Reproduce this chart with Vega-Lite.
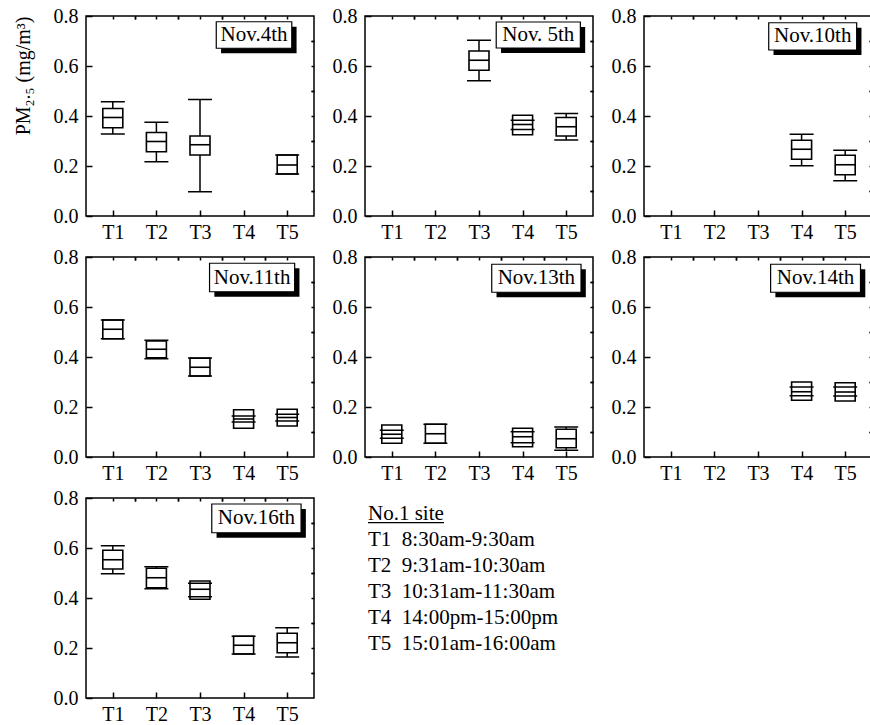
{
  "$schema": "https://vega.github.io/schema/vega-lite/v6.json",
  "background": "white",
  "padding": {"left": 12, "top": 5, "right": 0, "bottom": 0},
  "autosize": {"type": "pad"},
  "config": {
    "font": "Liberation Serif",
    "view": {"stroke": "black", "strokeWidth": 1.5},
    "axis": {"domain": false, "grid": false, "tickColor": "black", "tickWidth": 1.5, "labelFont": "Liberation Serif", "labelFontSize": 20, "labelColor": "black", "labelOverlap": false, "labelFlush": false, "titleFont": "Liberation Serif", "titleFontSize": 20, "titleFontWeight": "normal", "titleColor": "black"},
    "text": {"font": "Liberation Serif"}
  },
  "datasets": {
    "boxes": [
      {"date": "Nov.4th", "t": 1, "lo": 0.328, "q1": 0.353, "med": 0.394, "q3": 0.430, "hi": 0.457},
      {"date": "Nov.4th", "t": 2, "lo": 0.217, "q1": 0.257, "med": 0.298, "q3": 0.334, "hi": 0.375},
      {"date": "Nov.4th", "t": 3, "lo": 0.097, "q1": 0.244, "med": 0.285, "q3": 0.320, "hi": 0.466},
      {"date": "Nov.4th", "t": 5, "lo": 0.168, "q1": 0.168, "med": 0.204, "q3": 0.244, "hi": 0.244},
      {"date": "Nov. 5th", "t": 3, "lo": 0.541, "q1": 0.583, "med": 0.623, "q3": 0.660, "hi": 0.703},
      {"date": "Nov. 5th", "t": 4, "lo": 0.346, "q1": 0.325, "med": 0.366, "q3": 0.403, "hi": 0.383},
      {"date": "Nov. 5th", "t": 5, "lo": 0.304, "q1": 0.320, "med": 0.357, "q3": 0.394, "hi": 0.410},
      {"date": "Nov.10th", "t": 4, "lo": 0.201, "q1": 0.227, "med": 0.267, "q3": 0.303, "hi": 0.327},
      {"date": "Nov.10th", "t": 5, "lo": 0.141, "q1": 0.165, "med": 0.205, "q3": 0.243, "hi": 0.263},
      {"date": "Nov.11th", "t": 1, "lo": 0.473, "q1": 0.473, "med": 0.511, "q3": 0.548, "hi": 0.548},
      {"date": "Nov.11th", "t": 2, "lo": 0.393, "q1": 0.397, "med": 0.431, "q3": 0.464, "hi": 0.467},
      {"date": "Nov.11th", "t": 3, "lo": 0.324, "q1": 0.324, "med": 0.359, "q3": 0.395, "hi": 0.396},
      {"date": "Nov.11th", "t": 4, "lo": 0.140, "q1": 0.115, "med": 0.152, "q3": 0.189, "hi": 0.164},
      {"date": "Nov.11th", "t": 5, "lo": 0.144, "q1": 0.124, "med": 0.158, "q3": 0.191, "hi": 0.171},
      {"date": "Nov.13th", "t": 1, "lo": 0.075, "q1": 0.055, "med": 0.091, "q3": 0.128, "hi": 0.107},
      {"date": "Nov.13th", "t": 2, "lo": 0.055, "q1": 0.055, "med": 0.093, "q3": 0.131, "hi": 0.131},
      {"date": "Nov.13th", "t": 4, "lo": 0.057, "q1": 0.041, "med": 0.081, "q3": 0.115, "hi": 0.101},
      {"date": "Nov.13th", "t": 5, "lo": 0.027, "q1": 0.037, "med": 0.073, "q3": 0.111, "hi": 0.120},
      {"date": "Nov.14th", "t": 4, "lo": 0.245, "q1": 0.227, "med": 0.261, "q3": 0.300, "hi": 0.280},
      {"date": "Nov.14th", "t": 5, "lo": 0.244, "q1": 0.224, "med": 0.260, "q3": 0.297, "hi": 0.280},
      {"date": "Nov.16th", "t": 1, "lo": 0.497, "q1": 0.516, "med": 0.553, "q3": 0.591, "hi": 0.609},
      {"date": "Nov.16th", "t": 2, "lo": 0.437, "q1": 0.441, "med": 0.481, "q3": 0.519, "hi": 0.525},
      {"date": "Nov.16th", "t": 3, "lo": 0.405, "q1": 0.395, "med": 0.435, "q3": 0.468, "hi": 0.459},
      {"date": "Nov.16th", "t": 4, "lo": 0.176, "q1": 0.176, "med": 0.211, "q3": 0.247, "hi": 0.247},
      {"date": "Nov.16th", "t": 5, "lo": 0.164, "q1": 0.181, "med": 0.221, "q3": 0.259, "hi": 0.281}
    ],
    "labels": [
      {"date": "Nov.4th", "label": "Nov.4th"},
      {"date": "Nov. 5th", "label": "Nov. 5th"},
      {"date": "Nov.10th", "label": "Nov.10th"},
      {"date": "Nov.11th", "label": "Nov.11th"},
      {"date": "Nov.13th", "label": "Nov.13th"},
      {"date": "Nov.14th", "label": "Nov.14th"},
      {"date": "Nov.16th", "label": "Nov.16th"}
    ],
    "legend": [
      {"row": 0, "text": "No.1 site"},
      {"row": 1, "text": "T1\u00a0\u00a08:30am-9:30am"},
      {"row": 2, "text": "T2\u00a0\u00a09:31am-10:30am"},
      {"row": 3, "text": "T3\u00a0\u00a010:31am-11:30am"},
      {"row": 4, "text": "T4\u00a0\u00a014:00pm-15:00pm"},
      {"row": 5, "text": "T5\u00a0\u00a015:01am-16:00am"}
    ]
  },
  "columns": 3,
  "spacing": {"row": 41, "column": 51},
  "bounds": "flush",
  "concat": [
    {
      "width": 228, "height": 200,
      "data": {"name": "boxes"},
      "transform": [{"filter": "datum.date == 'Nov.4th'"}],
      "layer": [
        {"mark": {"type": "rule", "color": "black", "strokeWidth": 1.5},
         "encoding": {
           "x": {"field": "t", "type": "quantitative", "scale": {"domain": [0.5, 5.5], "nice": false, "zero": false}, "axis": {"values": [1, 2, 3, 4, 5], "labelExpr": "'T' + datum.value", "tickSize": -6, "labelPadding": 12, "title": null}},
           "y": {"field": "lo", "type": "quantitative", "scale": {"domain": [0, 0.8], "nice": false, "zero": false}, "axis": {"values": [0, 0.2, 0.4, 0.6, 0.8], "format": ".1f", "tickSize": -6, "labelPadding": 14, "title": "PM₂.₅ (mg/m³)", "titleAnchor": "end", "titlePadding": 20}},
           "y2": {"field": "q1"}}},
        {"mark": {"type": "rule", "color": "black", "strokeWidth": 1.5},
         "encoding": {
           "x": {"field": "t", "type": "quantitative", "axis": {"values": [1.5, 2.5, 3.5, 4.5], "labels": false, "tickSize": -3, "title": null}},
           "y": {"field": "q3", "type": "quantitative", "axis": {"values": [0.1, 0.3, 0.5, 0.7], "labels": false, "tickSize": -3, "title": null}},
           "y2": {"field": "hi"}}},
        {"mark": {"type": "bar", "size": 20, "fill": "white", "stroke": "black", "strokeWidth": 1.6},
         "encoding": {
           "x": {"field": "t", "type": "quantitative", "axis": {"orient": "top", "values": [1, 1.5, 2, 2.5, 3, 3.5, 4, 4.5, 5], "labels": false, "tickSize": -3, "title": null}},
           "y": {"field": "q1", "type": "quantitative", "axis": {"orient": "right", "values": [0.1, 0.2, 0.3, 0.4, 0.5, 0.6, 0.7], "labels": false, "tickSize": -3, "title": null}},
           "y2": {"field": "q3"}}},
        {"mark": {"type": "tick", "orient": "horizontal", "size": 20, "thickness": 1.6, "color": "black", "opacity": 1},
         "encoding": {"x": {"field": "t", "type": "quantitative", "axis": null}, "y": {"field": "med", "type": "quantitative", "axis": null}}},
        {"mark": {"type": "tick", "orient": "horizontal", "size": 24, "thickness": 1.5, "color": "black", "opacity": 1},
         "encoding": {"x": {"field": "t", "type": "quantitative", "axis": null}, "y": {"field": "lo", "type": "quantitative", "axis": null}}},
        {"mark": {"type": "tick", "orient": "horizontal", "size": 24, "thickness": 1.5, "color": "black", "opacity": 1},
         "encoding": {"x": {"field": "t", "type": "quantitative", "axis": null}, "y": {"field": "hi", "type": "quantitative", "axis": null}}},
        {"data": {"name": "labels"}, "transform": [{"filter": "datum.date == 'Nov.4th'"}], "mark": {"type": "rect", "color": "black"},
         "encoding": {"x": {"datum": 3.483, "type": "quantitative", "axis": null}, "x2": {"datum": 5.215}, "y": {"datum": 0.757, "type": "quantitative", "axis": null}, "y2": {"datum": 0.651}}},
        {"data": {"name": "labels"}, "transform": [{"filter": "datum.date == 'Nov.4th'"}], "mark": {"type": "rect", "fill": "white", "stroke": "black", "strokeWidth": 1.2},
         "encoding": {"x": {"datum": 3.373, "type": "quantitative", "axis": null}, "x2": {"datum": 5.105}, "y": {"datum": 0.777, "type": "quantitative", "axis": null}, "y2": {"datum": 0.671}}},
        {"data": {"name": "labels"}, "transform": [{"filter": "datum.date == 'Nov.4th'"}], "mark": {"type": "text", "fontSize": 21, "color": "black", "baseline": "middle", "align": "center"},
         "encoding": {"x": {"datum": 4.239, "type": "quantitative", "axis": null}, "y": {"datum": 0.724, "type": "quantitative", "axis": null}, "text": {"field": "label"}}}
      ],
      "resolve": {"axis": {"x": "independent", "y": "independent"}}
    },
    {
      "width": 228, "height": 200,
      "data": {"name": "boxes"},
      "transform": [{"filter": "datum.date == 'Nov. 5th'"}],
      "layer": [
        {"mark": {"type": "rule", "color": "black", "strokeWidth": 1.5},
         "encoding": {
           "x": {"field": "t", "type": "quantitative", "scale": {"domain": [0.5, 5.5], "nice": false, "zero": false}, "axis": {"values": [1, 2, 3, 4, 5], "labelExpr": "'T' + datum.value", "tickSize": -6, "labelPadding": 12, "title": null}},
           "y": {"field": "lo", "type": "quantitative", "scale": {"domain": [0, 0.8], "nice": false, "zero": false}, "axis": {"values": [0, 0.2, 0.4, 0.6, 0.8], "format": ".1f", "tickSize": -6, "labelPadding": 14, "title": null}},
           "y2": {"field": "q1"}}},
        {"mark": {"type": "rule", "color": "black", "strokeWidth": 1.5},
         "encoding": {
           "x": {"field": "t", "type": "quantitative", "axis": {"values": [1.5, 2.5, 3.5, 4.5], "labels": false, "tickSize": -3, "title": null}},
           "y": {"field": "q3", "type": "quantitative", "axis": {"values": [0.1, 0.3, 0.5, 0.7], "labels": false, "tickSize": -3, "title": null}},
           "y2": {"field": "hi"}}},
        {"mark": {"type": "bar", "size": 20, "fill": "white", "stroke": "black", "strokeWidth": 1.6},
         "encoding": {
           "x": {"field": "t", "type": "quantitative", "axis": {"orient": "top", "values": [1, 1.5, 2, 2.5, 3, 3.5, 4, 4.5, 5], "labels": false, "tickSize": -3, "title": null}},
           "y": {"field": "q1", "type": "quantitative", "axis": {"orient": "right", "values": [0.1, 0.2, 0.3, 0.4, 0.5, 0.6, 0.7], "labels": false, "tickSize": -3, "title": null}},
           "y2": {"field": "q3"}}},
        {"mark": {"type": "tick", "orient": "horizontal", "size": 20, "thickness": 1.6, "color": "black", "opacity": 1},
         "encoding": {"x": {"field": "t", "type": "quantitative", "axis": null}, "y": {"field": "med", "type": "quantitative", "axis": null}}},
        {"mark": {"type": "tick", "orient": "horizontal", "size": 24, "thickness": 1.5, "color": "black", "opacity": 1},
         "encoding": {"x": {"field": "t", "type": "quantitative", "axis": null}, "y": {"field": "lo", "type": "quantitative", "axis": null}}},
        {"mark": {"type": "tick", "orient": "horizontal", "size": 24, "thickness": 1.5, "color": "black", "opacity": 1},
         "encoding": {"x": {"field": "t", "type": "quantitative", "axis": null}, "y": {"field": "hi", "type": "quantitative", "axis": null}}},
        {"data": {"name": "labels"}, "transform": [{"filter": "datum.date == 'Nov. 5th'"}], "mark": {"type": "rect", "color": "black"},
         "encoding": {"x": {"datum": 3.505, "type": "quantitative", "axis": null}, "x2": {"datum": 5.435}, "y": {"datum": 0.756, "type": "quantitative", "axis": null}, "y2": {"datum": 0.652}}},
        {"data": {"name": "labels"}, "transform": [{"filter": "datum.date == 'Nov. 5th'"}], "mark": {"type": "rect", "fill": "white", "stroke": "black", "strokeWidth": 1.2},
         "encoding": {"x": {"datum": 3.395, "type": "quantitative", "axis": null}, "x2": {"datum": 5.325}, "y": {"datum": 0.776, "type": "quantitative", "axis": null}, "y2": {"datum": 0.672}}},
        {"data": {"name": "labels"}, "transform": [{"filter": "datum.date == 'Nov. 5th'"}], "mark": {"type": "text", "fontSize": 21, "color": "black", "baseline": "middle", "align": "center"},
         "encoding": {"x": {"datum": 4.36, "type": "quantitative", "axis": null}, "y": {"datum": 0.724, "type": "quantitative", "axis": null}, "text": {"field": "label"}}}
      ],
      "resolve": {"axis": {"x": "independent", "y": "independent"}}
    },
    {
      "width": 228, "height": 200,
      "data": {"name": "boxes"},
      "transform": [{"filter": "datum.date == 'Nov.10th'"}],
      "layer": [
        {"mark": {"type": "rule", "color": "black", "strokeWidth": 1.5},
         "encoding": {
           "x": {"field": "t", "type": "quantitative", "scale": {"domain": [0.5, 5.5], "nice": false, "zero": false}, "axis": {"values": [1, 2, 3, 4, 5], "labelExpr": "'T' + datum.value", "tickSize": -6, "labelPadding": 12, "title": null}},
           "y": {"field": "lo", "type": "quantitative", "scale": {"domain": [0, 0.8], "nice": false, "zero": false}, "axis": {"values": [0, 0.2, 0.4, 0.6, 0.8], "format": ".1f", "tickSize": -6, "labelPadding": 14, "title": null}},
           "y2": {"field": "q1"}}},
        {"mark": {"type": "rule", "color": "black", "strokeWidth": 1.5},
         "encoding": {
           "x": {"field": "t", "type": "quantitative", "axis": {"values": [1.5, 2.5, 3.5, 4.5], "labels": false, "tickSize": -3, "title": null}},
           "y": {"field": "q3", "type": "quantitative", "axis": {"values": [0.1, 0.3, 0.5, 0.7], "labels": false, "tickSize": -3, "title": null}},
           "y2": {"field": "hi"}}},
        {"mark": {"type": "bar", "size": 20, "fill": "white", "stroke": "black", "strokeWidth": 1.6},
         "encoding": {
           "x": {"field": "t", "type": "quantitative", "axis": {"orient": "top", "values": [1, 1.5, 2, 2.5, 3, 3.5, 4, 4.5, 5], "labels": false, "tickSize": -3, "title": null}},
           "y": {"field": "q1", "type": "quantitative", "axis": {"orient": "right", "values": [0.1, 0.2, 0.3, 0.4, 0.5, 0.6, 0.7], "labels": false, "tickSize": -3, "title": null}},
           "y2": {"field": "q3"}}},
        {"mark": {"type": "tick", "orient": "horizontal", "size": 20, "thickness": 1.6, "color": "black", "opacity": 1},
         "encoding": {"x": {"field": "t", "type": "quantitative", "axis": null}, "y": {"field": "med", "type": "quantitative", "axis": null}}},
        {"mark": {"type": "tick", "orient": "horizontal", "size": 24, "thickness": 1.5, "color": "black", "opacity": 1},
         "encoding": {"x": {"field": "t", "type": "quantitative", "axis": null}, "y": {"field": "lo", "type": "quantitative", "axis": null}}},
        {"mark": {"type": "tick", "orient": "horizontal", "size": 24, "thickness": 1.5, "color": "black", "opacity": 1},
         "encoding": {"x": {"field": "t", "type": "quantitative", "axis": null}, "y": {"field": "hi", "type": "quantitative", "axis": null}}},
        {"data": {"name": "labels"}, "transform": [{"filter": "datum.date == 'Nov.10th'"}], "mark": {"type": "rect", "color": "black"},
         "encoding": {"x": {"datum": 3.356, "type": "quantitative", "axis": null}, "x2": {"datum": 5.373}, "y": {"datum": 0.753, "type": "quantitative", "axis": null}, "y2": {"datum": 0.644}}},
        {"data": {"name": "labels"}, "transform": [{"filter": "datum.date == 'Nov.10th'"}], "mark": {"type": "rect", "fill": "white", "stroke": "black", "strokeWidth": 1.2},
         "encoding": {"x": {"datum": 3.246, "type": "quantitative", "axis": null}, "x2": {"datum": 5.263}, "y": {"datum": 0.773, "type": "quantitative", "axis": null}, "y2": {"datum": 0.664}}},
        {"data": {"name": "labels"}, "transform": [{"filter": "datum.date == 'Nov.10th'"}], "mark": {"type": "text", "fontSize": 21, "color": "black", "baseline": "middle", "align": "center"},
         "encoding": {"x": {"datum": 4.255, "type": "quantitative", "axis": null}, "y": {"datum": 0.7185, "type": "quantitative", "axis": null}, "text": {"field": "label"}}}
      ],
      "resolve": {"axis": {"x": "independent", "y": "independent"}}
    },
    {
      "width": 228, "height": 200,
      "data": {"name": "boxes"},
      "transform": [{"filter": "datum.date == 'Nov.11th'"}],
      "layer": [
        {"mark": {"type": "rule", "color": "black", "strokeWidth": 1.5},
         "encoding": {
           "x": {"field": "t", "type": "quantitative", "scale": {"domain": [0.5, 5.5], "nice": false, "zero": false}, "axis": {"values": [1, 2, 3, 4, 5], "labelExpr": "'T' + datum.value", "tickSize": -6, "labelPadding": 12, "title": null}},
           "y": {"field": "lo", "type": "quantitative", "scale": {"domain": [0, 0.8], "nice": false, "zero": false}, "axis": {"values": [0, 0.2, 0.4, 0.6, 0.8], "format": ".1f", "tickSize": -6, "labelPadding": 14, "title": null}},
           "y2": {"field": "q1"}}},
        {"mark": {"type": "rule", "color": "black", "strokeWidth": 1.5},
         "encoding": {
           "x": {"field": "t", "type": "quantitative", "axis": {"values": [1.5, 2.5, 3.5, 4.5], "labels": false, "tickSize": -3, "title": null}},
           "y": {"field": "q3", "type": "quantitative", "axis": {"values": [0.1, 0.3, 0.5, 0.7], "labels": false, "tickSize": -3, "title": null}},
           "y2": {"field": "hi"}}},
        {"mark": {"type": "bar", "size": 20, "fill": "white", "stroke": "black", "strokeWidth": 1.6},
         "encoding": {
           "x": {"field": "t", "type": "quantitative", "axis": {"orient": "top", "values": [1, 1.5, 2, 2.5, 3, 3.5, 4, 4.5, 5], "labels": false, "tickSize": -3, "title": null}},
           "y": {"field": "q1", "type": "quantitative", "axis": {"orient": "right", "values": [0.1, 0.2, 0.3, 0.4, 0.5, 0.6, 0.7], "labels": false, "tickSize": -3, "title": null}},
           "y2": {"field": "q3"}}},
        {"mark": {"type": "tick", "orient": "horizontal", "size": 20, "thickness": 1.6, "color": "black", "opacity": 1},
         "encoding": {"x": {"field": "t", "type": "quantitative", "axis": null}, "y": {"field": "med", "type": "quantitative", "axis": null}}},
        {"mark": {"type": "tick", "orient": "horizontal", "size": 24, "thickness": 1.5, "color": "black", "opacity": 1},
         "encoding": {"x": {"field": "t", "type": "quantitative", "axis": null}, "y": {"field": "lo", "type": "quantitative", "axis": null}}},
        {"mark": {"type": "tick", "orient": "horizontal", "size": 24, "thickness": 1.5, "color": "black", "opacity": 1},
         "encoding": {"x": {"field": "t", "type": "quantitative", "axis": null}, "y": {"field": "hi", "type": "quantitative", "axis": null}}},
        {"data": {"name": "labels"}, "transform": [{"filter": "datum.date == 'Nov.11th'"}], "mark": {"type": "rect", "color": "black"},
         "encoding": {"x": {"datum": 3.329, "type": "quantitative", "axis": null}, "x2": {"datum": 5.281}, "y": {"datum": 0.755, "type": "quantitative", "axis": null}, "y2": {"datum": 0.641}}},
        {"data": {"name": "labels"}, "transform": [{"filter": "datum.date == 'Nov.11th'"}], "mark": {"type": "rect", "fill": "white", "stroke": "black", "strokeWidth": 1.2},
         "encoding": {"x": {"datum": 3.219, "type": "quantitative", "axis": null}, "x2": {"datum": 5.171}, "y": {"datum": 0.775, "type": "quantitative", "axis": null}, "y2": {"datum": 0.661}}},
        {"data": {"name": "labels"}, "transform": [{"filter": "datum.date == 'Nov.11th'"}], "mark": {"type": "text", "fontSize": 21, "color": "black", "baseline": "middle", "align": "center"},
         "encoding": {"x": {"datum": 4.195, "type": "quantitative", "axis": null}, "y": {"datum": 0.718, "type": "quantitative", "axis": null}, "text": {"field": "label"}}}
      ],
      "resolve": {"axis": {"x": "independent", "y": "independent"}}
    },
    {
      "width": 228, "height": 200,
      "data": {"name": "boxes"},
      "transform": [{"filter": "datum.date == 'Nov.13th'"}],
      "layer": [
        {"mark": {"type": "rule", "color": "black", "strokeWidth": 1.5},
         "encoding": {
           "x": {"field": "t", "type": "quantitative", "scale": {"domain": [0.5, 5.5], "nice": false, "zero": false}, "axis": {"values": [1, 2, 3, 4, 5], "labelExpr": "'T' + datum.value", "tickSize": -6, "labelPadding": 12, "title": null}},
           "y": {"field": "lo", "type": "quantitative", "scale": {"domain": [0, 0.8], "nice": false, "zero": false}, "axis": {"values": [0, 0.2, 0.4, 0.6, 0.8], "format": ".1f", "tickSize": -6, "labelPadding": 14, "title": null}},
           "y2": {"field": "q1"}}},
        {"mark": {"type": "rule", "color": "black", "strokeWidth": 1.5},
         "encoding": {
           "x": {"field": "t", "type": "quantitative", "axis": {"values": [1.5, 2.5, 3.5, 4.5], "labels": false, "tickSize": -3, "title": null}},
           "y": {"field": "q3", "type": "quantitative", "axis": {"values": [0.1, 0.3, 0.5, 0.7], "labels": false, "tickSize": -3, "title": null}},
           "y2": {"field": "hi"}}},
        {"mark": {"type": "bar", "size": 20, "fill": "white", "stroke": "black", "strokeWidth": 1.6},
         "encoding": {
           "x": {"field": "t", "type": "quantitative", "axis": {"orient": "top", "values": [1, 1.5, 2, 2.5, 3, 3.5, 4, 4.5, 5], "labels": false, "tickSize": -3, "title": null}},
           "y": {"field": "q1", "type": "quantitative", "axis": {"orient": "right", "values": [0.1, 0.2, 0.3, 0.4, 0.5, 0.6, 0.7], "labels": false, "tickSize": -3, "title": null}},
           "y2": {"field": "q3"}}},
        {"mark": {"type": "tick", "orient": "horizontal", "size": 20, "thickness": 1.6, "color": "black", "opacity": 1},
         "encoding": {"x": {"field": "t", "type": "quantitative", "axis": null}, "y": {"field": "med", "type": "quantitative", "axis": null}}},
        {"mark": {"type": "tick", "orient": "horizontal", "size": 24, "thickness": 1.5, "color": "black", "opacity": 1},
         "encoding": {"x": {"field": "t", "type": "quantitative", "axis": null}, "y": {"field": "lo", "type": "quantitative", "axis": null}}},
        {"mark": {"type": "tick", "orient": "horizontal", "size": 24, "thickness": 1.5, "color": "black", "opacity": 1},
         "encoding": {"x": {"field": "t", "type": "quantitative", "axis": null}, "y": {"field": "hi", "type": "quantitative", "axis": null}}},
        {"data": {"name": "labels"}, "transform": [{"filter": "datum.date == 'Nov.13th'"}], "mark": {"type": "rect", "color": "black"},
         "encoding": {"x": {"datum": 3.402, "type": "quantitative", "axis": null}, "x2": {"datum": 5.45}, "y": {"datum": 0.751, "type": "quantitative", "axis": null}, "y2": {"datum": 0.639}}},
        {"data": {"name": "labels"}, "transform": [{"filter": "datum.date == 'Nov.13th'"}], "mark": {"type": "rect", "fill": "white", "stroke": "black", "strokeWidth": 1.2},
         "encoding": {"x": {"datum": 3.292, "type": "quantitative", "axis": null}, "x2": {"datum": 5.34}, "y": {"datum": 0.771, "type": "quantitative", "axis": null}, "y2": {"datum": 0.659}}},
        {"data": {"name": "labels"}, "transform": [{"filter": "datum.date == 'Nov.13th'"}], "mark": {"type": "text", "fontSize": 21, "color": "black", "baseline": "middle", "align": "center"},
         "encoding": {"x": {"datum": 4.316, "type": "quantitative", "axis": null}, "y": {"datum": 0.715, "type": "quantitative", "axis": null}, "text": {"field": "label"}}}
      ],
      "resolve": {"axis": {"x": "independent", "y": "independent"}}
    },
    {
      "width": 228, "height": 200,
      "data": {"name": "boxes"},
      "transform": [{"filter": "datum.date == 'Nov.14th'"}],
      "layer": [
        {"mark": {"type": "rule", "color": "black", "strokeWidth": 1.5},
         "encoding": {
           "x": {"field": "t", "type": "quantitative", "scale": {"domain": [0.5, 5.5], "nice": false, "zero": false}, "axis": {"values": [1, 2, 3, 4, 5], "labelExpr": "'T' + datum.value", "tickSize": -6, "labelPadding": 12, "title": null}},
           "y": {"field": "lo", "type": "quantitative", "scale": {"domain": [0, 0.8], "nice": false, "zero": false}, "axis": {"values": [0, 0.2, 0.4, 0.6, 0.8], "format": ".1f", "tickSize": -6, "labelPadding": 14, "title": null}},
           "y2": {"field": "q1"}}},
        {"mark": {"type": "rule", "color": "black", "strokeWidth": 1.5},
         "encoding": {
           "x": {"field": "t", "type": "quantitative", "axis": {"values": [1.5, 2.5, 3.5, 4.5], "labels": false, "tickSize": -3, "title": null}},
           "y": {"field": "q3", "type": "quantitative", "axis": {"values": [0.1, 0.3, 0.5, 0.7], "labels": false, "tickSize": -3, "title": null}},
           "y2": {"field": "hi"}}},
        {"mark": {"type": "bar", "size": 20, "fill": "white", "stroke": "black", "strokeWidth": 1.6},
         "encoding": {
           "x": {"field": "t", "type": "quantitative", "axis": {"orient": "top", "values": [1, 1.5, 2, 2.5, 3, 3.5, 4, 4.5, 5], "labels": false, "tickSize": -3, "title": null}},
           "y": {"field": "q1", "type": "quantitative", "axis": {"orient": "right", "values": [0.1, 0.2, 0.3, 0.4, 0.5, 0.6, 0.7], "labels": false, "tickSize": -3, "title": null}},
           "y2": {"field": "q3"}}},
        {"mark": {"type": "tick", "orient": "horizontal", "size": 20, "thickness": 1.6, "color": "black", "opacity": 1},
         "encoding": {"x": {"field": "t", "type": "quantitative", "axis": null}, "y": {"field": "med", "type": "quantitative", "axis": null}}},
        {"mark": {"type": "tick", "orient": "horizontal", "size": 24, "thickness": 1.5, "color": "black", "opacity": 1},
         "encoding": {"x": {"field": "t", "type": "quantitative", "axis": null}, "y": {"field": "lo", "type": "quantitative", "axis": null}}},
        {"mark": {"type": "tick", "orient": "horizontal", "size": 24, "thickness": 1.5, "color": "black", "opacity": 1},
         "encoding": {"x": {"field": "t", "type": "quantitative", "axis": null}, "y": {"field": "hi", "type": "quantitative", "axis": null}}},
        {"data": {"name": "labels"}, "transform": [{"filter": "datum.date == 'Nov.14th'"}], "mark": {"type": "rect", "color": "black"},
         "encoding": {"x": {"datum": 3.399, "type": "quantitative", "axis": null}, "x2": {"datum": 5.461}, "y": {"datum": 0.751, "type": "quantitative", "axis": null}, "y2": {"datum": 0.639}}},
        {"data": {"name": "labels"}, "transform": [{"filter": "datum.date == 'Nov.14th'"}], "mark": {"type": "rect", "fill": "white", "stroke": "black", "strokeWidth": 1.2},
         "encoding": {"x": {"datum": 3.289, "type": "quantitative", "axis": null}, "x2": {"datum": 5.351}, "y": {"datum": 0.771, "type": "quantitative", "axis": null}, "y2": {"datum": 0.659}}},
        {"data": {"name": "labels"}, "transform": [{"filter": "datum.date == 'Nov.14th'"}], "mark": {"type": "text", "fontSize": 21, "color": "black", "baseline": "middle", "align": "center"},
         "encoding": {"x": {"datum": 4.32, "type": "quantitative", "axis": null}, "y": {"datum": 0.715, "type": "quantitative", "axis": null}, "text": {"field": "label"}}}
      ],
      "resolve": {"axis": {"x": "independent", "y": "independent"}}
    },
    {
      "width": 228, "height": 200,
      "data": {"name": "boxes"},
      "transform": [{"filter": "datum.date == 'Nov.16th'"}],
      "layer": [
        {"mark": {"type": "rule", "color": "black", "strokeWidth": 1.5},
         "encoding": {
           "x": {"field": "t", "type": "quantitative", "scale": {"domain": [0.5, 5.5], "nice": false, "zero": false}, "axis": {"values": [1, 2, 3, 4, 5], "labelExpr": "'T' + datum.value", "tickSize": -6, "labelPadding": 12, "title": null}},
           "y": {"field": "lo", "type": "quantitative", "scale": {"domain": [0, 0.8], "nice": false, "zero": false}, "axis": {"values": [0, 0.2, 0.4, 0.6, 0.8], "format": ".1f", "tickSize": -6, "labelPadding": 14, "title": null}},
           "y2": {"field": "q1"}}},
        {"mark": {"type": "rule", "color": "black", "strokeWidth": 1.5},
         "encoding": {
           "x": {"field": "t", "type": "quantitative", "axis": {"values": [1.5, 2.5, 3.5, 4.5], "labels": false, "tickSize": -3, "title": null}},
           "y": {"field": "q3", "type": "quantitative", "axis": {"values": [0.1, 0.3, 0.5, 0.7], "labels": false, "tickSize": -3, "title": null}},
           "y2": {"field": "hi"}}},
        {"mark": {"type": "bar", "size": 20, "fill": "white", "stroke": "black", "strokeWidth": 1.6},
         "encoding": {
           "x": {"field": "t", "type": "quantitative", "axis": {"orient": "top", "values": [1, 1.5, 2, 2.5, 3, 3.5, 4, 4.5, 5], "labels": false, "tickSize": -3, "title": null}},
           "y": {"field": "q1", "type": "quantitative", "axis": {"orient": "right", "values": [0.1, 0.2, 0.3, 0.4, 0.5, 0.6, 0.7], "labels": false, "tickSize": -3, "title": null}},
           "y2": {"field": "q3"}}},
        {"mark": {"type": "tick", "orient": "horizontal", "size": 20, "thickness": 1.6, "color": "black", "opacity": 1},
         "encoding": {"x": {"field": "t", "type": "quantitative", "axis": null}, "y": {"field": "med", "type": "quantitative", "axis": null}}},
        {"mark": {"type": "tick", "orient": "horizontal", "size": 24, "thickness": 1.5, "color": "black", "opacity": 1},
         "encoding": {"x": {"field": "t", "type": "quantitative", "axis": null}, "y": {"field": "lo", "type": "quantitative", "axis": null}}},
        {"mark": {"type": "tick", "orient": "horizontal", "size": 24, "thickness": 1.5, "color": "black", "opacity": 1},
         "encoding": {"x": {"field": "t", "type": "quantitative", "axis": null}, "y": {"field": "hi", "type": "quantitative", "axis": null}}},
        {"data": {"name": "labels"}, "transform": [{"filter": "datum.date == 'Nov.16th'"}], "mark": {"type": "rect", "color": "black"},
         "encoding": {"x": {"datum": 3.38, "type": "quantitative", "axis": null}, "x2": {"datum": 5.428}, "y": {"datum": 0.756, "type": "quantitative", "axis": null}, "y2": {"datum": 0.641}}},
        {"data": {"name": "labels"}, "transform": [{"filter": "datum.date == 'Nov.16th'"}], "mark": {"type": "rect", "fill": "white", "stroke": "black", "strokeWidth": 1.2},
         "encoding": {"x": {"datum": 3.27, "type": "quantitative", "axis": null}, "x2": {"datum": 5.318}, "y": {"datum": 0.776, "type": "quantitative", "axis": null}, "y2": {"datum": 0.661}}},
        {"data": {"name": "labels"}, "transform": [{"filter": "datum.date == 'Nov.16th'"}], "mark": {"type": "text", "fontSize": 21, "color": "black", "baseline": "middle", "align": "center"},
         "encoding": {"x": {"datum": 4.294, "type": "quantitative", "axis": null}, "y": {"datum": 0.7185, "type": "quantitative", "axis": null}, "text": {"field": "label"}}}
      ],
      "resolve": {"axis": {"x": "independent", "y": "independent"}}
    },
    {
      "width": 228, "height": 200,
      "view": {"stroke": null},
      "data": {"name": "legend"},
      "layer": [
        {"mark": {"type": "text", "fontSize": 21, "color": "black", "align": "left", "baseline": "alphabetic"},
         "encoding": {
           "x": {"datum": 0.566, "type": "quantitative", "scale": {"domain": [0.5, 5.5], "nice": false, "zero": false}, "axis": null},
           "y": {"field": "row", "type": "quantitative", "scale": {"domain": [-0.844, 6.831], "reverse": true, "nice": false, "zero": false}, "axis": null},
           "text": {"field": "text"}}},
        {"transform": [{"filter": "datum.row == 0"}],
         "mark": {"type": "rule", "color": "black", "strokeWidth": 1.2},
         "encoding": {
           "x": {"datum": 0.566, "type": "quantitative", "axis": null},
           "x2": {"datum": 2.232},
           "y": {"datum": 0.1, "type": "quantitative", "axis": null}}}
      ]
    }
  ]
}
